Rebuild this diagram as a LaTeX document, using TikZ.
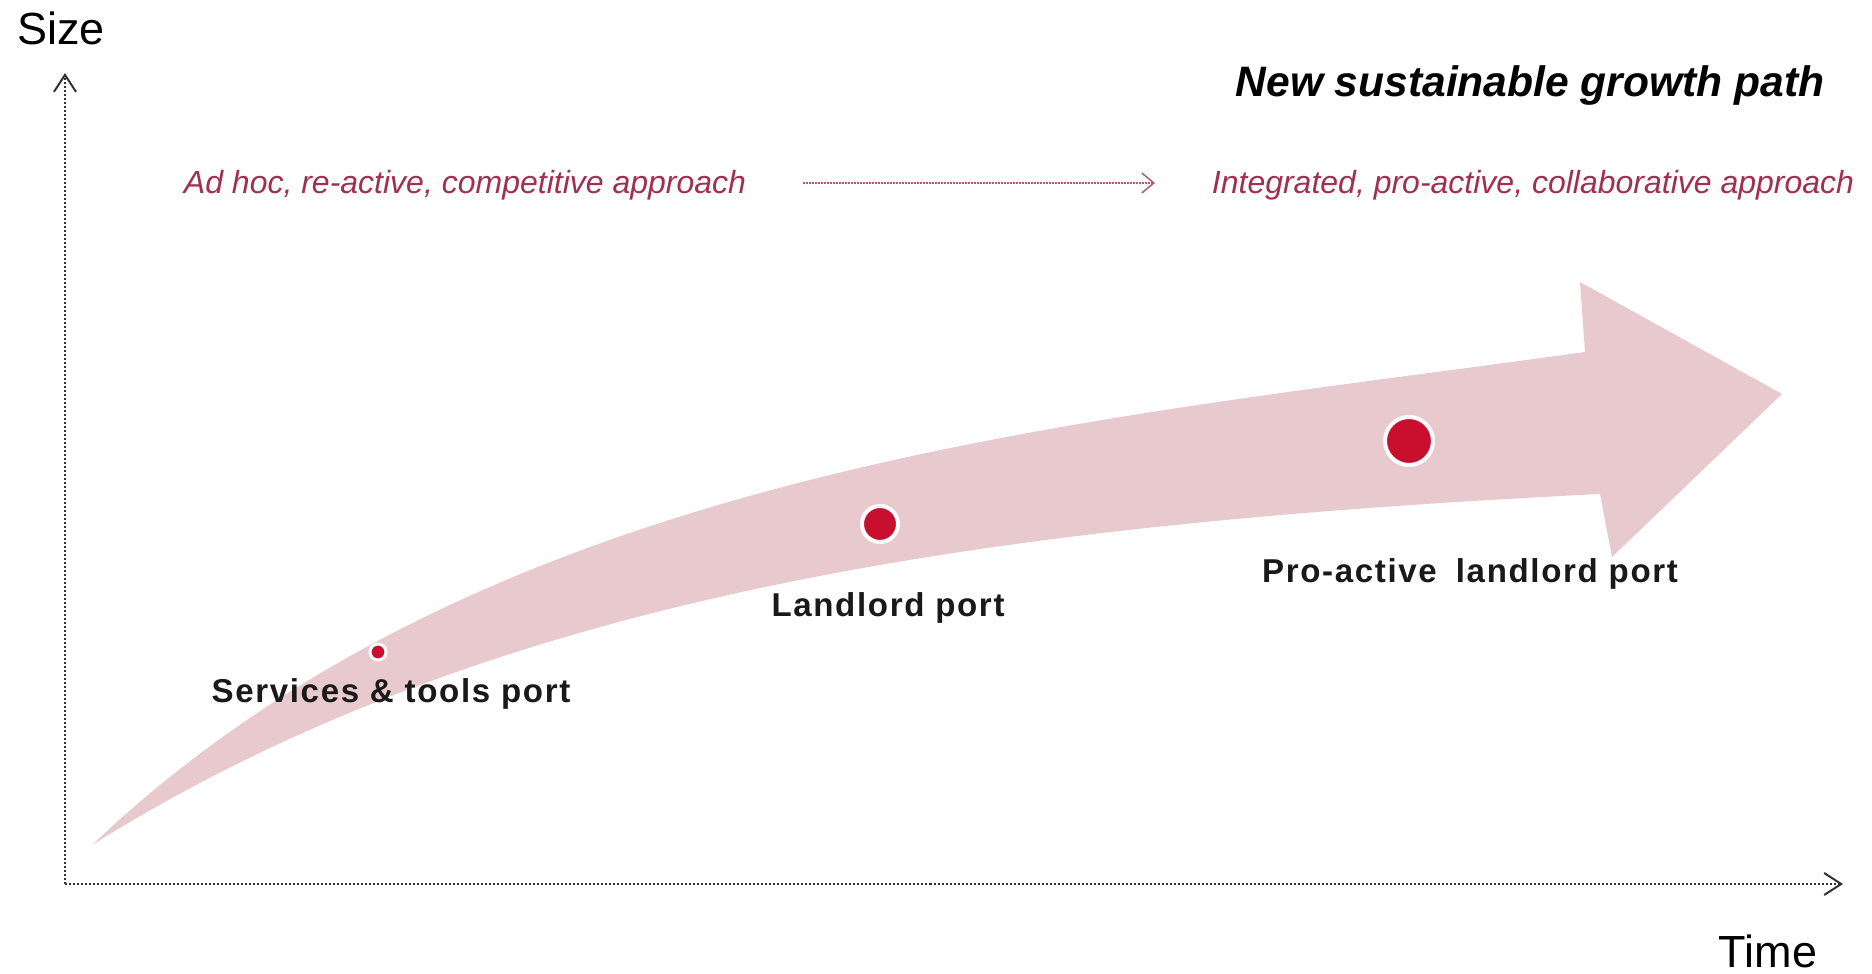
\documentclass[tikz,border=0pt]{standalone}
\usepackage{fontspec}
\setmainfont{Liberation Sans}
\newfontfamily\lblfont[LetterSpace=5]{Liberation Sans}
\usetikzlibrary{arrows.meta}
\definecolor{bandpink}{RGB}{232,201,205}
\definecolor{dotred}{RGB}{200,16,46}
\definecolor{txtred}{RGB}{160,48,80}
\definecolor{axisgray}{RGB}{50,50,50}
\begin{document}
\begin{tikzpicture}[x=0.01cm,y=-0.01cm,
  axisline/.style={axisgray, line width=0.2mm, dash pattern=on 0.2mm off 0.2mm,
    -{Straight Barb[length=1.7mm,width=2.2mm,line width=0.2mm]}},
  redline/.style={txtred!80, line width=0.15mm, dash pattern=on 0.15mm off 0.15mm,
    -{Straight Barb[length=1.2mm,width=2mm,line width=0.15mm]}},
  axislabel/.style={anchor=base, inner sep=0pt, font=\fontsize{12.8pt}{15pt}\selectfont, text=black},
  titletext/.style={anchor=base, inner sep=0pt, font=\fontsize{12.1pt}{14pt}\selectfont\bfseries\itshape, text=black},
  approach/.style={anchor=base, inner sep=0pt, font=\fontsize{9.1pt}{11pt}\selectfont\itshape, text=txtred},
  portlabel/.style={anchor=base, inner sep=0pt, font=\fontsize{9.4pt}{11pt}\selectfont\lblfont\bfseries, text=black!90},
  portdot/.style={circle, fill=dotred, draw=white, inner sep=0pt},
]
\useasboundingbox (0,0) rectangle (1872,974);

% big curved arrow
\fill[bandpink] (92,845) .. controls (492,465) and (1085,422) .. (1585,352)
  -- (1580,282) -- (1782,394) -- (1612,557) -- (1600,494)
  .. controls (1000,524) and (500,590) .. (92,845) -- cycle;

% axes
\coordinate (O) at (65,884);
\coordinate (ytop) at (65,73);
\coordinate (xend) at (1843,884);
\draw[axisline] (O) -- (ytop);
\draw[axisline] (O) -- (xend);
\node[axislabel] (size) at (61,45) {Size};
\node[axislabel] (time) at (1768,968) {Time};

% title and approaches
\node[titletext] (title) at (1530,97) {New sustainable growth path};
\node[approach] (adhoc) at (465,194) {Ad hoc, re-active, competitive approach};
\node[approach] (integ) at (1533,194) {Integrated, pro-active, collaborative approach};
\coordinate (ra1) at (803,183);
\coordinate (ra2) at (1155,183);
\draw[redline] (ra1) -- (ra2);

% dots
\node[portdot, minimum size=1.6mm, line width=0.3mm] (d1) at (378,652) {};
\node[portdot, minimum size=3.6mm, line width=0.4mm] (d2) at (880,524) {};
\node[portdot, minimum size=4.8mm, line width=0.4mm] (d3) at (1409,441) {};

% labels
\node[portlabel] (svc) at (391,703) {Services \& tools port};
\node[portlabel] (land) at (888,617) {Landlord port};
\node[portlabel] (pro) at (1470,583) {Pro-active\hspace{0.25em} landlord port};
\end{tikzpicture}
\end{document}
